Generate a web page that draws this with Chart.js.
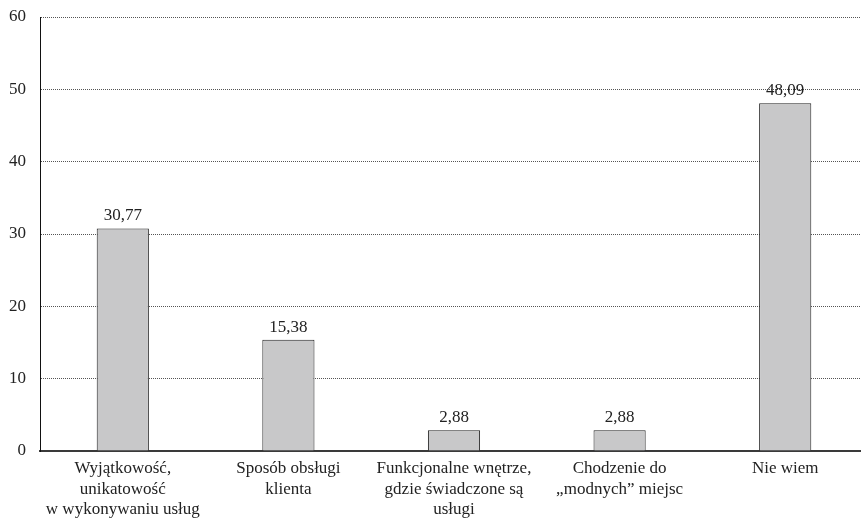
<!DOCTYPE html>
<html>
<head>
<meta charset="utf-8">
<script src="https://cdn.jsdelivr.net/npm/chart.js@4/dist/chart.umd.min.js"></script>
<style>
  html, body { margin: 0; padding: 0; background: #fff; overflow: hidden; }
  #wrap { position: absolute; left: 0; top: 0; width: 870px; height: 518px; }
</style>
</head>
<body>
<div id="wrap"><canvas id="answers" width="870" height="518"></canvas></div>
<script>
// answer categories (multi-line labels under the axis)
const categories = [
  ['Wyjątkowość,', 'unikatowość', 'w wykonywaniu usług'],
  ['Sposób obsługi', 'klienta'],
  ['Funkcjonalne wnętrze,', 'gdzie świadczone są', 'usługi'],
  ['Chodzenie do', '„modnych” miejsc'],
  ['Nie wiem']
];
// share of answers, %
const shares = [30.77, 15.38, 2.88, 2.88, 48.09];
const yTicks = [0, 10, 20, 30, 40, 50, 60];

const serif = "'Liberation Serif', serif";

// writes the value above each bar, with a decimal comma
const valueLabels = {
  id: 'valueLabels',
  afterDatasetsDraw(chart) {
    const ctx = chart.ctx;
    const meta = chart.getDatasetMeta(0);
    ctx.save();
    ctx.font = '17px ' + serif;
    ctx.fillStyle = '#222';
    ctx.textAlign = 'center';
    ctx.textBaseline = 'alphabetic';
    meta.data.forEach(function(bar, i) {
      const txt = shares[i].toFixed(2).replace('.', ',');
      ctx.fillText(txt, bar.x, bar.y - 8);
    });
    ctx.restore();
  }
};

const ctx = document.getElementById('answers').getContext('2d');
new Chart(ctx, {
  type: 'bar',
  data: {
    labels: categories,
    datasets: [{
      data: shares,
      backgroundColor: '#c8c8c9',
      borderColor: '#222',
      borderWidth: 1,
      barPercentage: 0.315,
      categoryPercentage: 1
    }]
  },
  options: {
    responsive: false,
    animation: false,
    layout: { padding: { top: 17, right: 2, left: 0, bottom: 0 } },
    plugins: {
      legend: { display: false },
      tooltip: { enabled: false }
    },
    scales: {
      x: {
        grid: { display: false, drawTicks: false },
        border: { display: true, color: '#3a3a3a', width: 2 },
        ticks: {
          color: '#222',
          font: { family: serif, size: 17, lineHeight: 1.18 },
          padding: 8,
          maxRotation: 0,
          autoSkip: false
        },
        afterFit: function(scale) {
          scale.height = 67;
          scale.paddingLeft = 0;
          scale.paddingRight = 0;
        }
      },
      y: {
        min: 0,
        max: 60,
        afterBuildTicks: function(scale) {
          scale.ticks = yTicks.map(v => ({ value: v }));
        },
        grid: { color: '#555', lineWidth: 1, drawTicks: false },
        border: { display: true, color: '#111', width: 1, dash: [1, 1] },
        ticks: {
          color: '#222',
          font: { family: serif, size: 17 },
          padding: 14
        },
        afterFit: function(scale) {
          scale.width = 40;
          // top label may overhang the plot; keep the plot top fixed
          scale.paddingTop = 0;
          scale.paddingBottom = 0;
        }
      }
    }
  },
  plugins: [valueLabels]
});
</script>
</body>
</html>
